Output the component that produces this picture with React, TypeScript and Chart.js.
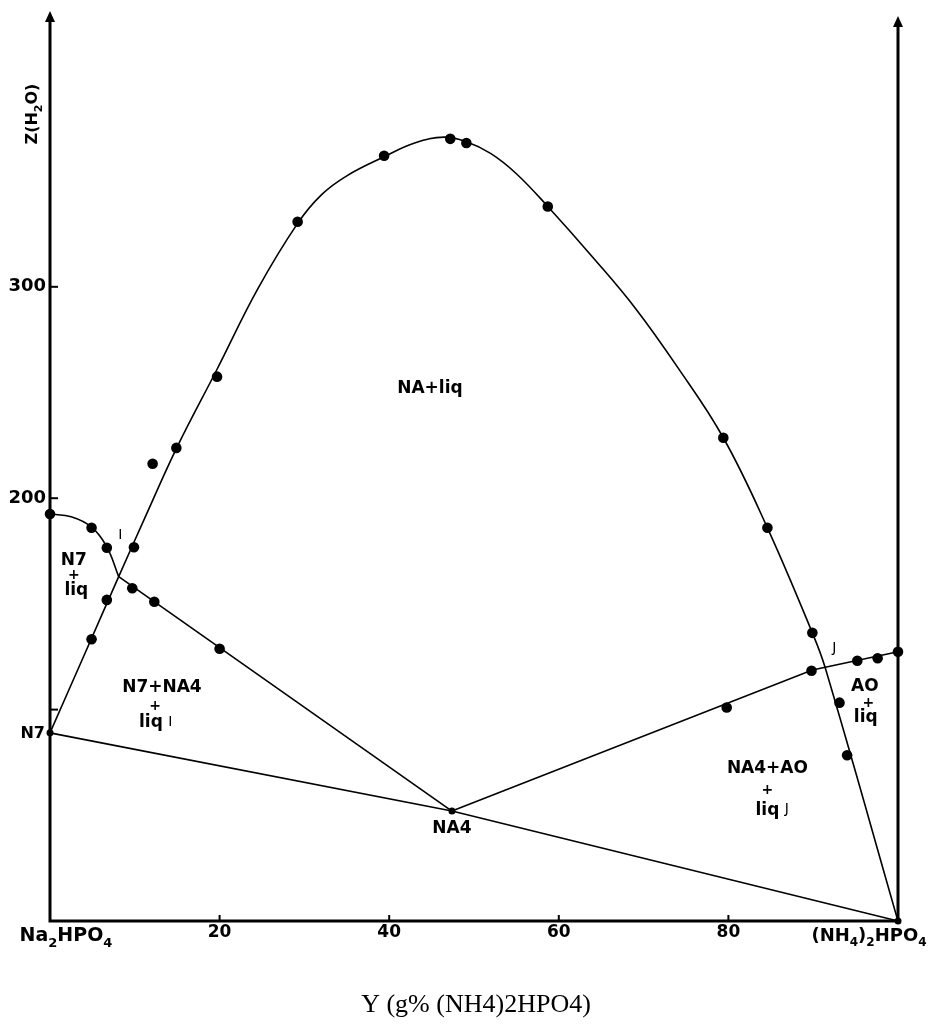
import React, { useEffect, useRef } from "react";
import { Chart, registerables } from "chart.js";

Chart.register(...registerables);

// ---- axis ranges and ticks ----
const xRange = [0, 100];
const yRange = [0, 430];
const xTickValues = [20, 40, 60, 80];
const xTickLabels = ["20", "40", "60", "80"];
const yTickValues = [100, 200, 300];
const yTickLabels = ["", "200", "300"];

// ---- key compositions ----
const n7Point = { x: 0, y: 89 };
const na4Point = { x: 47.4, y: 52 };
const aoPoint = { x: 100, y: 0 };

// NA + liq saturation curve (big dome)
const naLiquidus = [
  { x: 0, y: 89 },
  { x: 4, y: 125.5 },
  { x: 8.1, y: 162.9 },
  { x: 11.5, y: 193.5 },
  { x: 14.9, y: 223.5 },
  { x: 19.7, y: 261 },
  { x: 24.5, y: 299 },
  { x: 29.2, y: 330 },
  { x: 32, y: 343.5 },
  { x: 35, y: 352.5 },
  { x: 39.4, y: 361.5 },
  { x: 43, y: 368 },
  { x: 46.5, y: 370.8 },
  { x: 49.1, y: 368.6 },
  { x: 52, y: 363 },
  { x: 55, y: 353.5 },
  { x: 58.7, y: 338 },
  { x: 64, y: 314 },
  { x: 69, y: 290 },
  { x: 74, y: 262 },
  { x: 79.4, y: 228.6 },
  { x: 84.6, y: 186 },
  { x: 89.9, y: 136.3 },
  { x: 91.4, y: 120 },
  { x: 100, y: 0 },
];

// N7 + liq saturation curve
const n7Liquidus = [
  { x: 0, y: 192.5 },
  { x: 2.5, y: 191.2 },
  { x: 4.9, y: 186.3 },
  { x: 6.7, y: 177 },
  { x: 8.1, y: 162.9 },
];

// boundary I -> NA4
const n7Na4Boundary = [
  { x: 8.1, y: 162.9 },
  { x: 47.4, y: 52 },
];

// boundary NA4 -> J -> AO axis
const na4AoBoundary = [
  { x: 47.4, y: 52 },
  { x: 89.9, y: 118.7 },
  { x: 100, y: 127.4 },
];

// tie line N7 - NA4 - (NH4)2HPO4
const tieLine = [n7Point, na4Point, aoPoint];

// measured points
const measuredPoints = [
  { x: 0, y: 192.5 },
  { x: 4.9, y: 186 },
  { x: 6.7, y: 176.6 },
  { x: 4.9, y: 133.3 },
  { x: 6.7, y: 151.9 },
  { x: 9.9, y: 176.8 },
  { x: 9.7, y: 157.4 },
  { x: 12.3, y: 151 },
  { x: 20, y: 128.8 },
  { x: 12.1, y: 216.3 },
  { x: 14.9, y: 223.8 },
  { x: 19.7, y: 257.5 },
  { x: 29.2, y: 330.8 },
  { x: 39.4, y: 362 },
  { x: 47.2, y: 370 },
  { x: 49.1, y: 368 },
  { x: 58.7, y: 338 },
  { x: 79.4, y: 228.6 },
  { x: 84.6, y: 186 },
  { x: 89.9, y: 136.3 },
  { x: 93.1, y: 103.3 },
  { x: 94, y: 78.4 },
  { x: 79.8, y: 101 },
  { x: 89.8, y: 118.4 },
  { x: 95.2, y: 123.1 },
  { x: 97.6, y: 124.3 },
  { x: 100, y: 127.4 },
];

const junctionPoints = [n7Point, na4Point, aoPoint];

// region labels (data coordinates)
const regionLabels = [
  { text: "NA+liq", x: 44.8, y: 251.7 },
  { text: "N7", x: 2.8, y: 170.3 },
  { text: "+", x: 2.8, y: 163.7 },
  { text: "liq", x: 3.1, y: 156.1 },
  { text: "N7+NA4", x: 13.2, y: 110.2 },
  { text: "+", x: 12.4, y: 101.7 },
  { text: "liq", x: 11.9, y: 93.7 },
  { text: "NA4", x: 47.4, y: 43.5 },
  { text: "AO", x: 96.1, y: 110.7 },
  { text: "+", x: 96.5, y: 103.1 },
  { text: "liq", x: 96.2, y: 96 },
  { text: "NA4+AO", x: 84.6, y: 71.9 },
  { text: "+", x: 84.6, y: 62 },
  { text: "liq", x: 84.6, y: 52 },
];

const pointLetters = [
  { text: "I", x: 8.3, y: 182.6 },
  { text: "I", x: 14.2, y: 94.1 },
  { text: "J", x: 92.5, y: 129.1 },
  { text: "J", x: 86.9, y: 53 },
];

const yAxisTitle = [
  { t: "Z(H", sub: false },
  { t: "2", sub: true },
  { t: "O)", sub: false },
];
const leftEndLabel = [
  { t: "Na", sub: false },
  { t: "2", sub: true },
  { t: "HPO", sub: false },
  { t: "4", sub: true },
];
const rightEndLabel = [
  { t: "(NH", sub: false },
  { t: "4", sub: true },
  { t: ")", sub: false },
  { t: "2", sub: true },
  { t: "HPO", sub: false },
  { t: "4", sub: true },
];
const n7AxisLabel = "N7";
const xAxisTitle = "Y (g% (NH4)2HPO4)";

const SANS = '"DejaVu Sans", sans-serif';

type Part = { t: string; sub: boolean };

function drawRich(
  ctx: CanvasRenderingContext2D,
  parts: Part[],
  cx: number,
  cy: number,
  size: number
) {
  const mainFont = `bold ${size}px ${SANS}`;
  const subFont = `bold ${Math.round(size * 0.68)}px ${SANS}`;
  let w = 0;
  parts.forEach((p) => {
    ctx.font = p.sub ? subFont : mainFont;
    w += ctx.measureText(p.t).width;
  });
  let xx = cx - w / 2;
  ctx.textAlign = "left";
  ctx.textBaseline = "middle";
  parts.forEach((p) => {
    ctx.font = p.sub ? subFont : mainFont;
    ctx.fillText(p.t, xx, cy + (p.sub ? size * 0.38 : 0));
    xx += ctx.measureText(p.t).width;
  });
}

const decorPlugin = {
  id: "decor",
  beforeDatasetsDraw(chart: any) {
    const { ctx, chartArea } = chart;
    const xs = chart.scales.x;
    const ys = chart.scales.y;
    const X = (v: number) => xs.getPixelForValue(v);
    const Y = (v: number) => ys.getPixelForValue(v);
    ctx.save();
    ctx.strokeStyle = "#000";
    ctx.fillStyle = "#000";
    ctx.lineWidth = 3;
    ctx.lineCap = "butt";
    const x0 = X(xRange[0]);
    const x1 = X(xRange[1]);
    const y0 = Y(yRange[0]);
    ctx.beginPath();
    ctx.moveTo(x0, chartArea.top + 8);
    ctx.lineTo(x0, y0);
    ctx.lineTo(x1, y0);
    ctx.lineTo(x1, chartArea.top + 13);
    ctx.stroke();
    const arrow = (x: number, tip: number) => {
      ctx.beginPath();
      ctx.moveTo(x, tip);
      ctx.lineTo(x - 5, tip + 11);
      ctx.lineTo(x + 5, tip + 11);
      ctx.closePath();
      ctx.fill();
    };
    arrow(x0, chartArea.top - 1);
    arrow(x1, chartArea.top + 4);

    // tick marks (inward)
    ctx.lineWidth = 2;
    yTickValues.forEach((v) => {
      ctx.beginPath();
      ctx.moveTo(x0, Y(v));
      ctx.lineTo(x0 + 8, Y(v));
      ctx.stroke();
    });
    xTickValues.forEach((v) => {
      ctx.beginPath();
      ctx.moveTo(X(v), y0);
      ctx.lineTo(X(v), y0 - 6);
      ctx.stroke();
    });
    ctx.restore();
  },
  afterDatasetsDraw(chart: any) {
    const { ctx, chartArea } = chart;
    const xs = chart.scales.x;
    const ys = chart.scales.y;
    const X = (v: number) => xs.getPixelForValue(v);
    const Y = (v: number) => ys.getPixelForValue(v);
    const x0 = X(xRange[0]);
    const x1 = X(xRange[1]);
    const y0 = Y(yRange[0]);
    ctx.save();
    ctx.fillStyle = "#000";

    // y tick labels
    ctx.font = `bold 18px ${SANS}`;
    ctx.textAlign = "right";
    ctx.textBaseline = "middle";
    yTickValues.forEach((v, i) => {
      if (yTickLabels[i]) ctx.fillText(yTickLabels[i], x0 - 4, Y(v));
    });
    ctx.font = `bold 16px ${SANS}`;
    ctx.fillText(n7AxisLabel, x0 - 5, Y(n7Point.y) + 1);

    // x tick labels
    ctx.font = `bold 17px ${SANS}`;
    ctx.textAlign = "center";
    xTickValues.forEach((v, i) => {
      ctx.fillText(xTickLabels[i], X(v), y0 + 12);
    });
    drawRich(ctx, leftEndLabel, x0 + 16, y0 + 15, 19);
    drawRich(ctx, rightEndLabel, x1 - 29, y0 + 15, 18);

    // y axis title (rotated)
    ctx.save();
    ctx.translate(33, 114);
    ctx.rotate(-Math.PI / 2);
    drawRich(ctx, yAxisTitle, 0, 0, 16);
    ctx.restore();

    // region labels
    ctx.textAlign = "center";
    ctx.textBaseline = "middle";
    regionLabels.forEach((l) => {
      ctx.font = l.text === "+" ? `bold 14px ${SANS}` : `bold 17px ${SANS}`;
      ctx.fillText(l.text, X(l.x), Y(l.y));
    });
    ctx.font = `14px ${SANS}`;
    pointLetters.forEach((l) => {
      ctx.fillText(l.text, X(l.x), Y(l.y));
    });

    // x axis title
    ctx.font = `26px "Liberation Serif", serif`;
    ctx.textAlign = "center";
    ctx.textBaseline = "alphabetic";
    ctx.fillText(xAxisTitle, (chartArea.left + chartArea.right) / 2 + 2, 1012);
    ctx.restore();
  },
};

function lineDs(data: any[], tension: number) {
  return {
    type: "scatter" as const,
    data,
    showLine: true,
    borderColor: "#000",
    borderWidth: 1.6,
    pointRadius: 0,
    fill: false,
    clip: false,
    cubicInterpolationMode: "default" as const,
    tension,
  };
}

export default function App() {
  const ref = useRef<HTMLCanvasElement | null>(null);
  useEffect(() => {
    if (!ref.current) return;
    const chart = new Chart(ref.current, {
      type: "scatter",
      data: {
        datasets: [
          lineDs(naLiquidus, 0.4),
          lineDs(n7Liquidus, 0.4),
          lineDs(n7Na4Boundary, 0),
          lineDs(na4AoBoundary, 0),
          lineDs(tieLine, 0),
          {
            type: "scatter",
            data: measuredPoints,
            pointRadius: 5.3,
            pointBackgroundColor: "#000",
            pointBorderColor: "#000",
            pointBorderWidth: 0,
            clip: false,
          } as any,
          {
            type: "scatter",
            data: junctionPoints,
            pointRadius: 3.5,
            pointBackgroundColor: "#000",
            pointBorderColor: "#000",
            pointBorderWidth: 0,
            clip: false,
          } as any,
        ],
      },
      options: {
        animation: false,
        responsive: false,
        maintainAspectRatio: false,
        devicePixelRatio: 1,
        events: [],
        layout: { padding: { left: 50, right: 30, top: 12, bottom: 106 } },
        scales: {
          x: { type: "linear", min: xRange[0], max: xRange[1], display: false },
          y: { type: "linear", min: yRange[0], max: yRange[1], display: false },
        },
        plugins: {
          legend: { display: false },
          tooltip: { enabled: false },
          title: { display: false },
        },
      } as any,
      plugins: [decorPlugin],
    });
    return () => chart.destroy();
  }, []);
  return (
    <div
      style={{
        position: "absolute",
        left: 0,
        top: 0,
        width: 928,
        height: 1027,
        background: "#fff",
      }}
    >
      <canvas ref={ref} width={928} height={1027} style={{ display: "block", width: 928, height: 1027 }} />
    </div>
  );
}
